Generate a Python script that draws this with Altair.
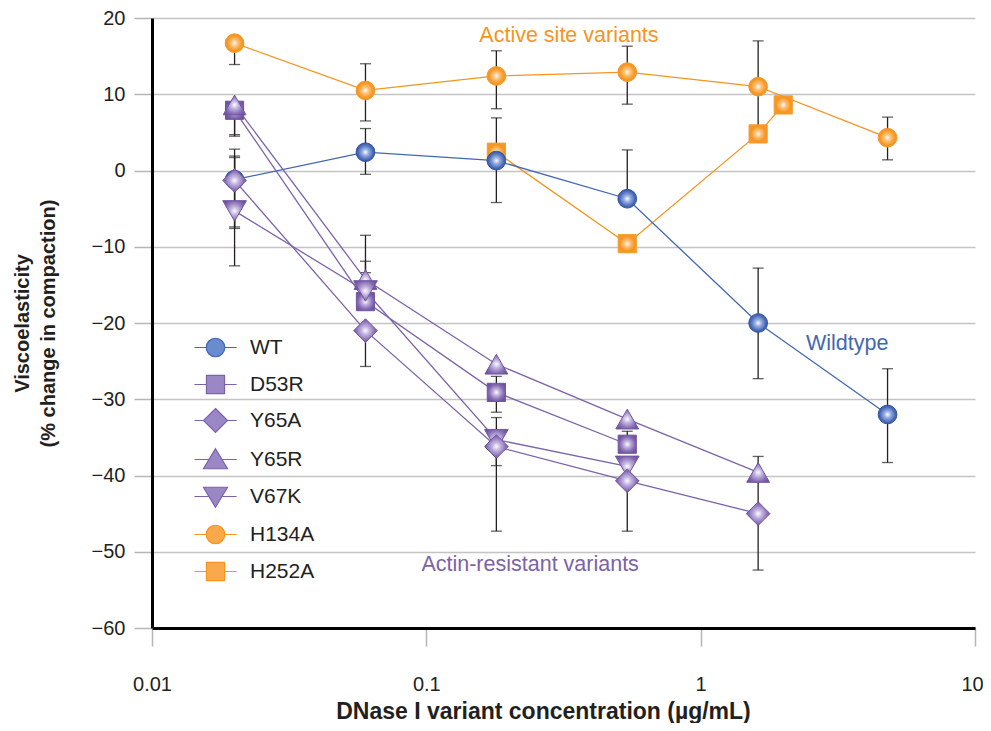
import altair as alt
import pandas as pd

# ---------------- data ----------------
conc = [0.02, 0.06, 0.18, 0.54, 1.62, 4.8]
h252a_conc = [0.18, 0.54, 1.62, 2.0]

wt = [-1.2, 2.4, 1.3, -3.7, -20.0, -32.0]
wt_lo = [-12.5, -0.5, -4.2, -3.7, -27.3, -38.3]
wt_hi = [2.8, 5.5, 6.9, 2.7, -12.8, -26.0]

d53r = [7.9, -17.2, -29.1, -35.9]
d53r_lo = [4.7, -17.2, -31.7, -35.9]
d53r_hi = [7.9, -11.9, -27.0, -34.2]

y65a = [-1.3, -21.0, -36.2, -40.7, -45.0]
y65a_lo = [-7.6, -25.7, -47.3, -47.3, -52.4]
y65a_hi = [1.9, -21.0, -36.2, -40.7, -39.6]

y65r = [8.6, -14.3, -25.4, -32.6, -39.6]
y65r_lo = [4.5, -14.3, -25.4, -32.6, -39.6]
y65r_hi = [8.6, -8.5, -25.4, -32.6, -37.5]

v67k = [-5.3, -15.8, -35.3, -38.8]
v67k_lo = [-7.4, -15.8, -38.7, -38.8]
v67k_hi = [1.7, -13.4, -32.4, -38.8]

h134a = [16.7, 10.5, 12.4, 12.9, 11.0, 4.3]
h134a_lo = [13.9, 6.5, 8.1, 8.7, 5.0, 1.4]
h134a_hi = [16.7, 14.0, 15.7, 16.3, 17.0, 7.0]

h252a = [2.4, -9.6, 4.8, 8.6]

series_names = ["WT", "D53R", "Y65A", "Y65R", "V67K", "H134A", "H252A"]

x_ticks = [0.01, 0.1, 1, 10]
y_ticks = [-60, -50, -40, -30, -20, -10, 0, 10, 20]

ann_text = ["Active site variants", "Wildtype", "Actin-resistant variants"]
ann_x = [0.331, 3.42, 0.239]
ann_y = [17.6, -22.8, -51.8]

# ---------------- styling ----------------
FONT = "Liberation Sans"
BLUE, PURPLE, ORANGE = "#4267b2", "#7c62a8", "#f7941d"
P = dict(line=PURPLE, edge="#6f55a0", base="#8469b3", light="#c4b6e0", legfill="#9b86c6")
style = {
    "WT": dict(line=BLUE, edge="#34549f", base="#4567b8", light="#9db1e2", legfill="#6a8bce",
               shape="circle", size=350),
    "D53R": dict(P, shape="square", size=330),
    "Y65A": dict(P, shape="diamond", size=560),
    "Y65R": dict(P, shape="triangle-up", size=520),
    "V67K": dict(P, shape="triangle-down", size=560),
    "H134A": dict(line=ORANGE, edge="#f39a2e", base="#f7941d", light="#fcc47f", legfill="#f9a94c",
                  shape="circle", size=350),
    "H252A": dict(line=ORANGE, edge="#f39a2e", base="#f7941d", light="#fcc47f", legfill="#f9a94c",
                  shape="square", size=330),
}

leg_paths = {
    "circle": "M-1.14,0H-0.5M0.5,0H1.14M0.5,0A0.5,0.5,0,1,1,-0.5,0A0.5,0.5,0,1,1,0.5,0Z",
    "square": "M-1.14,0H-0.49M0.49,0H1.14M-0.49,-0.49H0.49V0.49H-0.49Z",
    "diamond": "M-1.14,0H-0.65M0.65,0H1.14M0,-0.65L0.65,0L0,0.65L-0.65,0Z",
    "triangle-up": "M-1.14,0H-0.35M0.35,0H1.14M0,-0.58L0.65,0.5L-0.65,0.5Z",
    "triangle-down": "M-1.14,0H-0.35M0.35,0H1.14M0,0.58L0.65,-0.5L-0.65,-0.5Z",
}

series = {
    "WT": (conc, wt, wt_lo, wt_hi),
    "D53R": (conc[:4], d53r, d53r_lo, d53r_hi),
    "Y65A": (conc[:5], y65a, y65a_lo, y65a_hi),
    "Y65R": (conc[:5], y65r, y65r_lo, y65r_hi),
    "V67K": (conc[:4], v67k, v67k_lo, v67k_hi),
    "H134A": (conc, h134a, h134a_lo, h134a_hi),
    "H252A": (h252a_conc, h252a, h252a, h252a),
}

# ---------------- tables ----------------
err_rows, cap_rows = [], []
for name, (xs, ys, los, his) in series.items():
    for xv, yv, lo, hi in zip(xs, ys, los, his):
        if lo != hi:
            err_rows.append({"x": xv, "lo": lo, "hi": hi})
        if lo != yv:
            cap_rows.append({"x": xv, "y": lo})
        if hi != yv:
            cap_rows.append({"x": xv, "y": hi})
df_err = pd.DataFrame(err_rows)
df_cap = pd.DataFrame(cap_rows)

xscale = alt.Scale(type="log", domain=[0.01, 10])
yscale = alt.Scale(domain=[-60, 20], nice=False, zero=False)
xaxis = alt.Axis(values=x_ticks, format="~g", title="DNase I variant concentration (µg/mL)",
                 grid=False, labelFlush=False, labelPadding=28, titlePadding=6, titleX=391,
                 titleFontSize=23,
                 labelOffset={"condition": {"test": "datum.value == 10", "value": -3}, "value": 0})
yaxis = alt.Axis(values=y_ticks, title=["Viscoelasticity", "(% change in compaction)"],
                 grid=True, labelPadding=9, titlePadding=33, titleLineHeight=26)


def X(field="x"):
    return alt.X(f"{field}:Q", scale=xscale, axis=xaxis)


def Y(field="y"):
    return alt.Y(f"{field}:Q", scale=yscale, axis=yaxis)


layers = []
layers.append(alt.Chart(df_err).mark_rule(color="#231f20", strokeWidth=1.3).encode(
    x=X(), y=Y("lo"), y2="hi:Q"))
layers.append(alt.Chart(df_cap).mark_tick(orient="horizontal", size=11, thickness=1.3,
                                          color="#231f20").encode(x=X(), y=Y()))

draw_order = ["H252A", "H134A", "WT", "D53R", "Y65R", "V67K", "Y65A"]
for name in draw_order:
    xs, ys, _, _ = series[name]
    df = pd.DataFrame({"x": xs, "y": ys})
    layers.append(alt.Chart(df).mark_line(color=style[name]["line"], strokeWidth=1.3).encode(
        x=X(), y=Y()))
for name in draw_order:
    xs, ys, _, _ = series[name]
    st = style[name]
    df = pd.DataFrame({"x": xs, "y": ys})
    grad = {
        "gradient": "radial", "x1": 0.5, "y1": 0.5, "r1": 0, "x2": 0.5, "y2": 0.5, "r2": 0.55,
        "stops": [
            {"offset": 0, "color": "#ffffff"},
            {"offset": 0.3, "color": st["light"]},
            {"offset": 0.75, "color": st["base"]},
            {"offset": 1, "color": st["edge"]},
        ],
    }
    layers.append(alt.Chart(df).mark_point(shape=st["shape"], filled=True, fill=grad,
                                           stroke=st["edge"], strokeWidth=1, size=st["size"],
                                           opacity=1).encode(x=X(), y=Y()))

# annotations
df_ann = pd.DataFrame({"x": ann_x, "y": ann_y, "t": ann_text,
                       "c": [ORANGE, BLUE, PURPLE]})
layers.append(alt.Chart(df_ann).mark_text(font=FONT, fontSize=21.5, align="center",
                                          baseline="middle").encode(
    x=X(), y=Y(), text="t:N", color=alt.Color("c:N", scale=None)))

# legend-only layer
leg = alt.Legend(title=None, orient="none", legendX=44, legendY=310, padding=0, rowPadding=5,
                 labelFont=FONT, labelFontSize=21, labelColor="#231f20", labelOffset=15,
                 symbolSize=1369, symbolStrokeWidth=1.2, symbolOpacity=1,
                 labelExpr="datum.label == 'WT' ? '\u00a0WT' : datum.label")
df_leg = pd.DataFrame({"x": [1.0] * len(series_names), "y": [0.0] * len(series_names),
                       "series": series_names})
layers.append(alt.Chart(df_leg).transform_filter("false").mark_point(filled=True, opacity=1).encode(
    x=X(), y=Y(),
    fill=alt.Fill("series:N", scale=alt.Scale(domain=series_names,
                                               range=[style[s]["legfill"] for s in series_names]),
                  legend=leg),
    stroke=alt.Stroke("series:N", scale=alt.Scale(domain=series_names,
                                                   range=[style[s]["line"] for s in series_names]),
                      legend=leg),
    shape=alt.Shape("series:N", scale=alt.Scale(domain=series_names,
                                                 range=[leg_paths[style[s]["shape"]] for s in series_names]),
                    legend=leg),
))

chart = alt.layer(*layers).properties(
    width=823, height=610,
    autosize=alt.AutoSizeParams(type="none"),
    padding={"left": 144, "top": 10, "right": 8, "bottom": 95},
).configure_view(stroke=None).configure_axis(
    domainColor="#000000", domainWidth=3,
    tickColor="#b5b5b5", tickWidth=1.5, tickSize=18,
    labelFont=FONT, labelFontSize=20, labelColor="#231f20",
    titleFont=FONT, titleFontSize=20, titleFontWeight="bold", titleColor="#231f20",
    gridColor="#c4c4c4", gridWidth=1.5,
)

chart.save("out.html", embed_options={"renderer": "svg", "actions": False})
